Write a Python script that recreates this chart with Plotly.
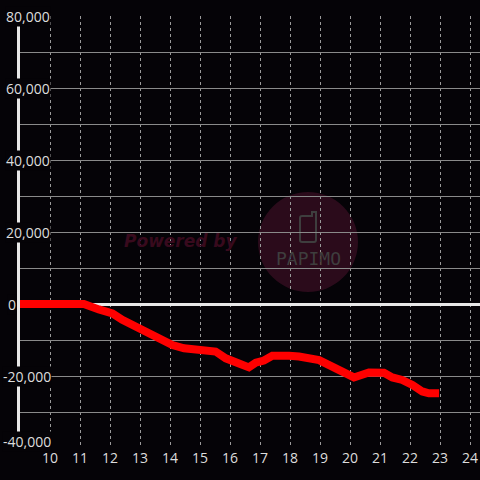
import plotly.graph_objects as go

# Data (hour of day, cumulative value)
hours = [9.0, 11.13, 11.63, 12.08, 12.41, 12.74, 13.08, 13.41, 13.74, 14.08, 14.47, 14.86,
         15.3, 15.52, 15.86, 16.19, 16.3, 16.63, 16.86, 17.13, 17.41, 17.97, 18.3, 18.97,
         19.52, 20.13, 20.63, 21.13, 21.41, 21.74, 22.08, 22.41, 22.63, 22.97]
values = [0, 0, -1500, -2600, -4400, -5800, -7200, -9100, -10000, -11400, -12300, -12800,
          -13100, -13200, -15100, -16500, -16500, -17600, -16300, -15700, -14400, -14400, -14600, -15600,
          -17600, -20400, -19000, -19100, -20400, -21100, -22500, -24300, -24800, -24800]

x_ticks = list(range(10, 25))
y_label_vals = [80000, 60000, 40000, 20000, 0, -20000, -40000]
y_grid_vals = list(range(-40000, 80001, 10000))

BG = "#050307"
W, H = 480, 480
ML, MR, MT, MB = 20, 0, 16, 32
PW, PH = W - ML - MR, H - MT - MB
FONT = "Open Sans, Liberation Sans, Arial"

def px_to_paper_x(px):
    return (px - ML) / PW

def px_to_paper_y(py):
    return (H - MB - py) / PH

fig = go.Figure()
fig.add_trace(go.Scatter(x=hours, y=values, mode="lines",
                         line=dict(color="#ff0000", width=8), hoverinfo="skip"))

annotations = []
for v in y_label_vals:
    last = v == y_label_vals[-1]
    if v == 0:
        ax, anchor = 17, "right"
    elif v < 0:
        ax, anchor = 2, "left"
    else:
        ax, anchor = 5, "left"
    annotations.append(dict(x=px_to_paper_x(ax), xref="paper", y=v, yref="y",
                            text=f"{v:,}", showarrow=False, xanchor=anchor, yanchor="middle",
                            yshift=7 if last else 0,
                            font=dict(family=FONT, size=14, color="#dddddd"),
                            bgcolor=BG, borderpad=0))
# watermark
annotations.append(dict(x=px_to_paper_x(181), xref="paper", y=px_to_paper_y(241), yref="paper",
                        text="<b><i>Powered by</i></b>", showarrow=False,
                        font=dict(family="DejaVu Sans", size=17, color="#380a1d")))
annotations.append(dict(x=px_to_paper_x(308), xref="paper", y=px_to_paper_y(258), yref="paper",
                        text="PAPIMO", showarrow=False,
                        font=dict(family="DejaVu Sans Mono", size=18, color="#3e3e3e")))

# phone icon outline (pixel coords converted to paper)
px0, px1, py0, py1 = 300, 316, 216, 242
r = 2
def P(x, y):
    return f"{px_to_paper_x(x):.5f},{px_to_paper_y(y):.5f}"
phone_path = (f"M {P(px0 + r, py0)} L {P(px1 - 4, py0)} L {P(px1 - 4, py0 - 4)} L {P(px1, py0 - 4)} "
              f"L {P(px1, py1 - r)} Q {P(px1, py1)} {P(px1 - r, py1)} "
              f"L {P(px0 + r, py1)} Q {P(px0, py1)} {P(px0, py1 - r)} "
              f"L {P(px0, py0 + r)} Q {P(px0, py0)} {P(px0 + r, py0)} Z")

shapes = [
    dict(type="circle", xref="paper", yref="paper", layer="below",
         x0=px_to_paper_x(258), x1=px_to_paper_x(358),
         y0=px_to_paper_y(292), y1=px_to_paper_y(192),
         fillcolor="#2b0b1b", line=dict(width=0)),
    dict(type="path", xref="paper", yref="paper", layer="below", path=phone_path,
         line=dict(color="#3e3e3e", width=2), fillcolor="rgba(0,0,0,0)"),
]

fig.update_layout(
    width=W, height=H,
    margin=dict(l=ML, r=MR, t=MT, b=MB, autoexpand=False),
    paper_bgcolor=BG, plot_bgcolor=BG,
    showlegend=False,
    annotations=annotations,
    shapes=shapes,
    xaxis=dict(range=[9, 24.333], tickvals=x_ticks, ticktext=[str(t) for t in x_ticks],
               showgrid=True, gridcolor="#9a9a9a", griddash="dot", gridwidth=1,
               zeroline=False, showline=False, ticks="", automargin=False,
               tickfont=dict(family=FONT, size=14, color="#dddddd"),
               fixedrange=True),
    yaxis=dict(range=[-40000, 80000], tickvals=y_grid_vals, showticklabels=False,
               showgrid=True, gridcolor="#8a8a8a", gridwidth=1, automargin=False,
               zeroline=True, zerolinecolor="#e8e8e8", zerolinewidth=3,
               showline=True, linecolor="#e8e8e8", linewidth=3, ticks="",
               fixedrange=True),
)

fig.write_html("out.html", config={"displayModeBar": False},
               post_script="document.body.style.margin='0';document.body.style.background='%s';" % BG)
